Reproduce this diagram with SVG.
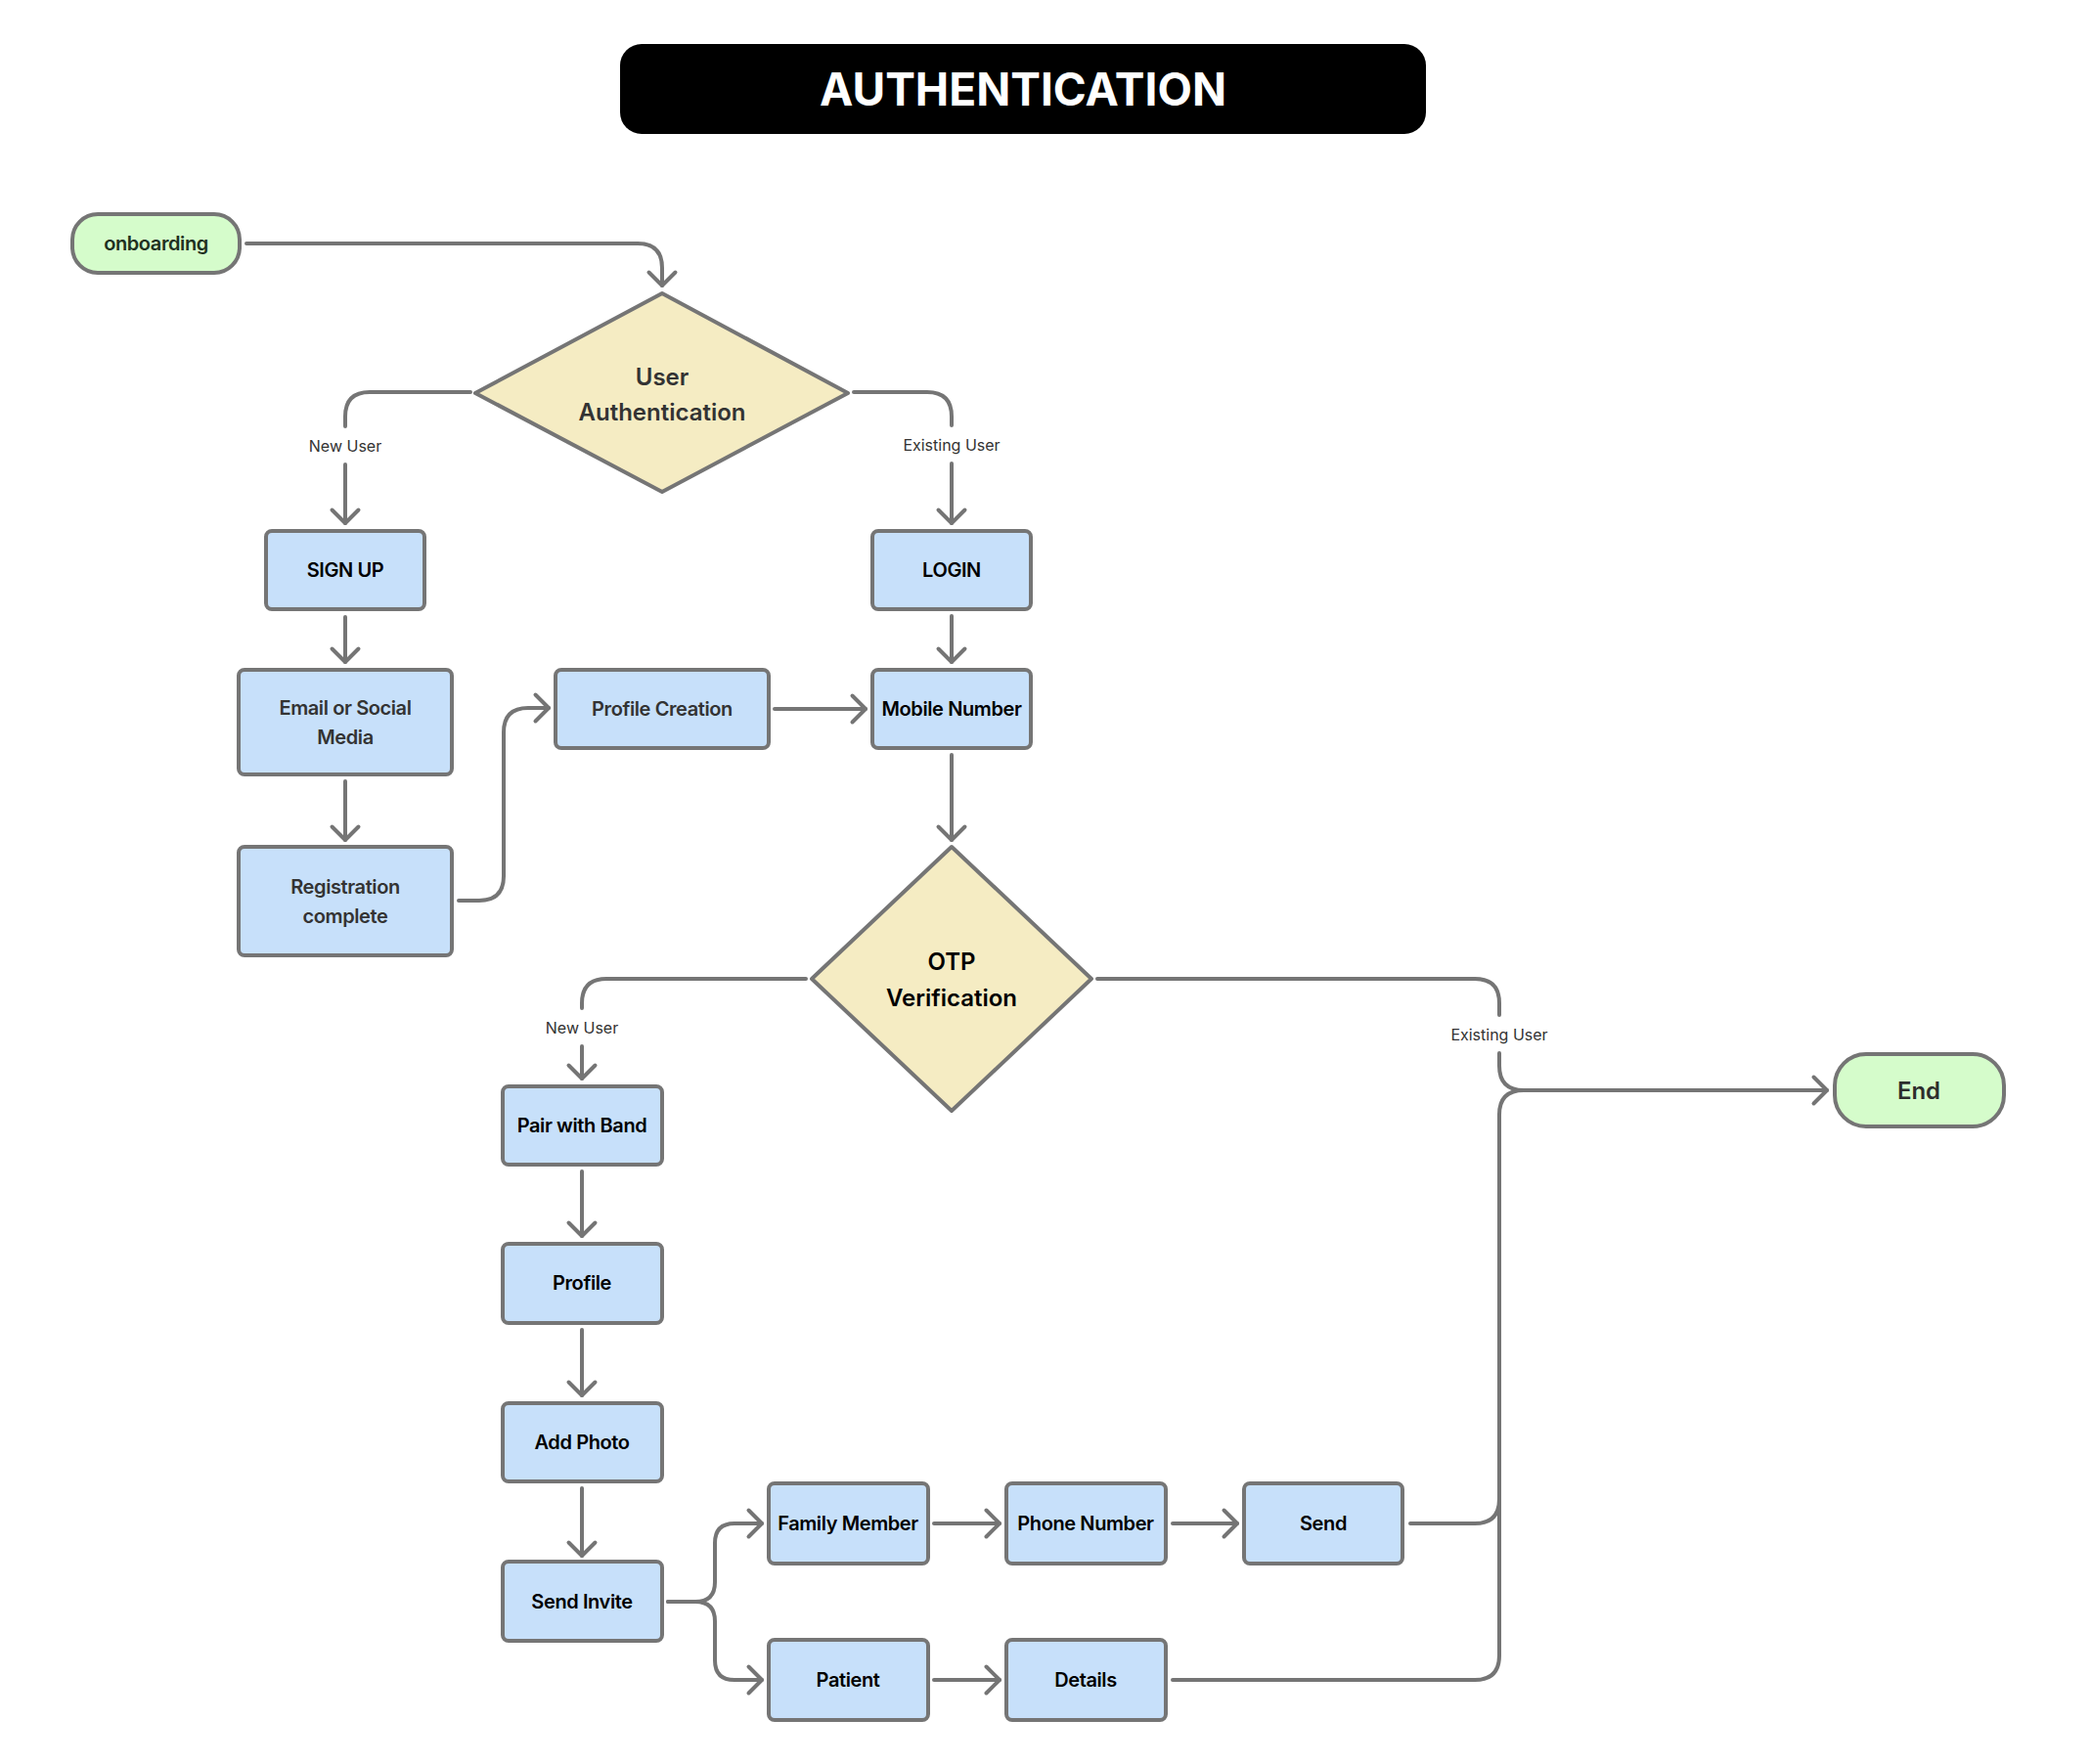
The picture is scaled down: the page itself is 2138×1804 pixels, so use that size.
<svg xmlns="http://www.w3.org/2000/svg" width="2138" height="1804" viewBox="0 0 2138 1804">
<style>
  text { font-family: Inter, "Noto Sans", "Liberation Sans", sans-serif; dominant-baseline: central; text-anchor: middle; }
  .box { fill: #C7E0FA; stroke: #757575; stroke-width: 4; }
  .term { fill: #D5FCCB; stroke: #757575; stroke-width: 4; }
  .dec { fill: #F5ECC3; stroke: #757575; stroke-width: 4; stroke-linejoin: round; }
  .t { font-size: 20px; font-weight: 600; fill: #000; letter-spacing: -0.4px; }
  .tg { font-size: 20px; font-weight: 600; fill: #333; letter-spacing: -0.4px; }
  .td { font-size: 24px; font-weight: 600; }
  .lbl { font-size: 16px; font-weight: 400; fill: #333; }
  .c { fill: none; stroke: #757575; stroke-width: 4; stroke-linecap: round; stroke-linejoin: round; }
  .a { marker-end: url(#arr); }
</style>
<defs>
  <marker id="arr" markerUnits="userSpaceOnUse" markerWidth="32" markerHeight="32" viewBox="0 0 32 32" refX="16" refY="16" orient="auto" overflow="visible">
    <path d="M2.5,2.5 L16,16 L2.5,29.5" fill="none" stroke="#757575" stroke-width="4" stroke-linecap="round" stroke-linejoin="round"/>
  </marker>
</defs>
<rect width="2138" height="1804" fill="#fff"/>

<g id="title">
  <rect x="634" y="45" width="824" height="92" rx="22" fill="#000"/>
  <text x="1046" y="91" style="font-size:46px;font-weight:700;fill:#fff">AUTHENTICATION</text>
</g>

<g id="connectors">
  <path class="c a" d="M252,249 H652 Q677,249 677,274 V292"/>
  <path class="c" d="M481,401 H378 Q353,401 353,426 V436"/>
  <path class="c a" d="M353,475 V535"/>
  <path class="c" d="M873,401 H948 Q973,401 973,426 V435"/>
  <path class="c a" d="M973,474 V535"/>
  <path class="c a" d="M353,631 V677"/>
  <path class="c a" d="M353,799 V859"/>
  <path class="c a" d="M469,921 H490 Q515,921 515,896 V749 Q515,724 540,724 H561"/>
  <path class="c a" d="M792,725 H885"/>
  <path class="c a" d="M973,630 V677"/>
  <path class="c a" d="M973,772 V859"/>
  <path class="c" d="M824,1001 H620 Q595,1001 595,1026 V1031"/>
  <path class="c a" d="M595,1070 V1103"/>
  <path class="c" d="M1122,1001 H1508 Q1533,1001 1533,1026 V1038"/>
  <path class="c a" d="M1533,1077 V1090 Q1533,1115 1558,1115 H1868"/>
  <path class="c a" d="M595,1198 V1264"/>
  <path class="c a" d="M595,1360 V1427"/>
  <path class="c a" d="M595,1522 V1591"/>
  <path class="c a" d="M683,1638 H711 Q731,1638 731,1618 V1578 Q731,1558 751,1558 H779"/>
  <path class="c a" d="M683,1638 H711 Q731,1638 731,1658 V1698 Q731,1718 751,1718 H779"/>
  <path class="c a" d="M955,1558 H1022"/>
  <path class="c a" d="M955,1718 H1022"/>
  <path class="c a" d="M1199,1558 H1265"/>
  <path class="c" d="M1442,1558 H1508 Q1533,1558 1533,1533 V1140 Q1533,1115 1558,1115 H1860"/>
  <path class="c" d="M1199,1718 H1508 Q1533,1718 1533,1693 V1140"/>
  <text class="lbl" x="353" y="456">New User</text>
  <text class="lbl" x="973" y="455">Existing User</text>
  <text class="lbl" x="595" y="1051">New User</text>
  <text class="lbl" x="1533" y="1058">Existing User</text>
</g>

<g id="onboarding">
  <rect class="term" x="74" y="219" width="171" height="60" rx="26"/>
  <text class="tg" x="159.5" y="249" style="fill:#203020">onboarding</text>
</g>
<g id="user-authentication">
  <polygon class="dec" points="677,300 867,402 677,503 486,402"/>
  <text class="td" x="677" y="385" style="fill:#333">User</text>
  <text class="td" x="677" y="421" style="fill:#333">Authentication</text>
</g>
<g id="sign-up">
  <rect class="box" x="272" y="543" width="162" height="80" rx="6"/>
  <text class="t" x="353" y="583">SIGN UP</text>
</g>
<g id="login">
  <rect class="box" x="892" y="543" width="162" height="80" rx="6"/>
  <text class="t" x="973" y="583">LOGIN</text>
</g>
<g id="email-social">
  <rect class="box" x="244" y="685" width="218" height="107" rx="6"/>
  <text class="tg" x="353" y="724">Email or Social</text>
  <text class="tg" x="353" y="754">Media</text>
</g>
<g id="registration">
  <rect class="box" x="244" y="866" width="218" height="111" rx="6"/>
  <text class="tg" x="353" y="907">Registration</text>
  <text class="tg" x="353" y="937">complete</text>
</g>
<g id="profile-creation">
  <rect class="box" x="568" y="685" width="218" height="80" rx="6"/>
  <text class="tg" x="677" y="725">Profile Creation</text>
</g>
<g id="mobile-number">
  <rect class="box" x="892" y="685" width="162" height="80" rx="6"/>
  <text class="t" x="973" y="725">Mobile Number</text>
</g>
<g id="otp-verification">
  <polygon class="dec" points="973,866 1116,1001 973,1136 830,1001"/>
  <text class="td" x="973" y="983" style="fill:#000">OTP</text>
  <text class="td" x="973" y="1020" style="fill:#000">Verification</text>
</g>
<g id="pair-band">
  <rect class="box" x="514" y="1111" width="163" height="80" rx="6"/>
  <text class="t" x="595" y="1151">Pair with Band</text>
</g>
<g id="profile">
  <rect class="box" x="514" y="1272" width="163" height="81" rx="6"/>
  <text class="t" x="595" y="1312">Profile</text>
</g>
<g id="add-photo">
  <rect class="box" x="514" y="1435" width="163" height="80" rx="6"/>
  <text class="t" x="595" y="1475">Add Photo</text>
</g>
<g id="send-invite">
  <rect class="box" x="514" y="1597" width="163" height="81" rx="6"/>
  <text class="t" x="595" y="1638">Send Invite</text>
</g>
<g id="family-member">
  <rect class="box" x="786" y="1517" width="163" height="82" rx="6"/>
  <text class="t" x="867" y="1558">Family Member</text>
</g>
<g id="phone-number">
  <rect class="box" x="1029" y="1517" width="163" height="82" rx="6"/>
  <text class="t" x="1110" y="1558">Phone Number</text>
</g>
<g id="send">
  <rect class="box" x="1272" y="1517" width="162" height="82" rx="6"/>
  <text class="t" x="1353" y="1558">Send</text>
</g>
<g id="patient">
  <rect class="box" x="786" y="1677" width="163" height="82" rx="6"/>
  <text class="t" x="867" y="1718">Patient</text>
</g>
<g id="details">
  <rect class="box" x="1029" y="1677" width="163" height="82" rx="6"/>
  <text class="t" x="1110" y="1718">Details</text>
</g>
<g id="end">
  <rect class="term" x="1876" y="1078" width="173" height="74" rx="32"/>
  <text class="td" x="1962" y="1115" style="fill:#2d2d2d">End</text>
</g>
</svg>
